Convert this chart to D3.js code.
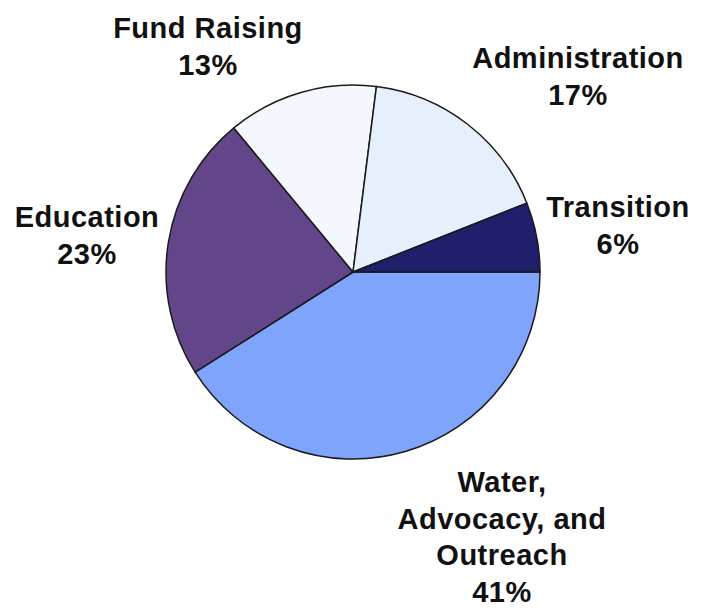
<!DOCTYPE html>
<html>
<head>
<meta charset="utf-8">
<script src="https://cdn.jsdelivr.net/npm/d3@7"></script>
<style>
  body { margin: 0; background: #fff; }
  svg text { font-family: "Liberation Sans", Arial, sans-serif; font-weight: bold; fill: #111; letter-spacing: 0.5px; }
</style>
</head>
<body>
<svg width="712" height="608"></svg>
<script>
// slice order: clockwise starting at 3 o'clock
const categories = ["Water, Advocacy, and Outreach", "Education", "Fund Raising", "Administration", "Transition"];
const shares = [41, 23, 13, 17, 6];
const labelLines = [
    ["Water,", "Advocacy, and", "Outreach", "41%"],
    ["Education", "23%"],
    ["Fund Raising", "13%"],
    ["Administration", "17%"],
    ["Transition", "6%"]
];
const colors = ["#7fa4fb", "#634589", "#f5f7fe", "#e6f0fd", "#1f1f6b"];

const svg = d3.select("svg");
const cx = 353, cy = 272, radius = 187;

// where each label block starts (first baseline), placed like the original
const labelPos = [[502, 492], [87, 227], [208, 38], [578, 68], [618, 217]];
const lineGap = 36.7;

const data = categories.map((c, i) => ({ name: c, value: shares[i], color: colors[i], lines: labelLines[i], pos: labelPos[i] }));

const pie = d3.pie()
    .value(d => d.value)
    .sort(null)
    .startAngle(Math.PI / 2)
    .endAngle(Math.PI / 2 + 2 * Math.PI);

const arc = d3.arc().innerRadius(0).outerRadius(radius);

const g = svg.append("g").attr("transform", `translate(${cx},${cy})`);

g.selectAll("path")
    .data(pie(data))
    .enter().append("path")
    .attr("d", arc)
    .attr("fill", d => d.data.color)
    .attr("stroke", "#1a1a1a")
    .attr("stroke-width", 1.5)
    .attr("stroke-linejoin", "round");

const labels = svg.append("g")
    .selectAll("text")
    .data(data)
    .enter().append("text")
    .attr("text-anchor", "middle")
    .attr("font-size", 29);

labels.selectAll("tspan")
    .data(d => d.lines.map((t, j) => ({ t, j, x: d.pos[0], y: d.pos[1] })))
    .enter().append("tspan")
    .attr("x", d => d.x)
    .attr("y", d => d.y + d.j * lineGap)
    .text(d => d.t);
</script>
</body>
</html>
